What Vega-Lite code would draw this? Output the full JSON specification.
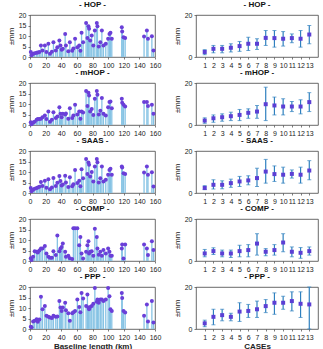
{
  "$schema": "https://vega.github.io/schema/vega-lite/v6.json",
  "padding": {"left": 6, "top": 0, "right": 0, "bottom": 0},
  "background": "white",
  "datasets": {
    "stems": [
      {"km": 1, "HOP": 2.4, "mHOP": 1.3, "SAAS": 2.4, "COMP": 1.3, "PPP": 1.1},
      {"km": 2, "HOP": 0.8, "mHOP": 0.4, "SAAS": 0.8, "COMP": 0.5, "PPP": 0.8},
      {"km": 4, "HOP": 1.6, "mHOP": 1.2, "SAAS": 1.6, "COMP": 2.0, "PPP": 3.6},
      {"km": 6, "HOP": 1.8, "mHOP": 1.5, "SAAS": 2.0, "COMP": 4.7, "PPP": 3.9},
      {"km": 8.5, "HOP": 2.0, "mHOP": 2.5, "SAAS": 2.4, "COMP": 4.4, "PPP": 4.7},
      {"km": 10, "HOP": 2.2, "mHOP": 2.9, "SAAS": 2.6, "COMP": 4.0, "PPP": 3.5},
      {"km": 12, "HOP": 2.4, "mHOP": 2.9, "SAAS": 3.0, "COMP": 5.0, "PPP": 4.5},
      {"km": 14, "HOP": 5.5, "mHOP": 3.0, "SAAS": 5.2, "COMP": 5.9, "PPP": 15.3},
      {"km": 16, "HOP": 3.1, "mHOP": 3.7, "SAAS": 3.3, "COMP": 5.9, "PPP": 9.4},
      {"km": 19, "HOP": 5.5, "mHOP": 4.5, "SAAS": 5.8, "COMP": 7.2, "PPP": 10.9},
      {"km": 21, "HOP": 2.4, "mHOP": 2.8, "SAAS": 2.5, "COMP": 3.6, "PPP": 6.3},
      {"km": 23.5, "HOP": 6.3, "mHOP": 6.4, "SAAS": 6.5, "COMP": 2.0, "PPP": 5.8},
      {"km": 25.6, "HOP": 1.6, "mHOP": 1.5, "SAAS": 1.8, "COMP": 1.5, "PPP": 5.5},
      {"km": 28, "HOP": 2.5, "mHOP": 2.5, "SAAS": 2.6, "COMP": 1.5, "PPP": 5.2},
      {"km": 30, "HOP": 7.0, "mHOP": 6.1, "SAAS": 7.2, "COMP": 4.7, "PPP": 6.3},
      {"km": 33, "HOP": 3.1, "mHOP": 3.3, "SAAS": 3.3, "COMP": 2.8, "PPP": 5.8},
      {"km": 35, "HOP": 4.7, "mHOP": 4.0, "SAAS": 4.9, "COMP": 12.2, "PPP": 5.9},
      {"km": 37.6, "HOP": 7.9, "mHOP": 8.5, "SAAS": 8.1, "COMP": 4.7, "PPP": 13.3},
      {"km": 39, "HOP": 5.5, "mHOP": 5.3, "SAAS": 5.7, "COMP": 5.9, "PPP": 10.2},
      {"km": 40.5, "HOP": 3.5, "mHOP": 3.7, "SAAS": 3.6, "COMP": 6.7, "PPP": 8.6},
      {"km": 42, "HOP": 3.9, "mHOP": 5.3, "SAAS": 4.0, "COMP": 8.3, "PPP": 10.2},
      {"km": 45, "HOP": 11.0, "mHOP": 5.0, "SAAS": 8.2, "COMP": 4.4, "PPP": 12.5},
      {"km": 46, "HOP": 5.5, "mHOP": 5.5, "SAAS": 5.0, "COMP": 2.0, "PPP": 8.9},
      {"km": 49, "HOP": 2.7, "mHOP": 3.0, "SAAS": 2.8, "COMP": 2.5, "PPP": 7.5},
      {"km": 51, "HOP": 7.0, "mHOP": 8.0, "SAAS": 7.5, "COMP": 1.3, "PPP": 3.9},
      {"km": 54, "HOP": 3.0, "mHOP": 3.3, "SAAS": 3.2, "COMP": 1.0, "PPP": 7.5},
      {"km": 55.5, "HOP": 4.0, "mHOP": 4.5, "SAAS": 4.2, "COMP": 15.6, "PPP": 8.0},
      {"km": 57.7, "HOP": 8.7, "mHOP": 9.6, "SAAS": 11.0, "COMP": 15.6, "PPP": 8.6},
      {"km": 60.6, "HOP": 4.7, "mHOP": 5.0, "SAAS": 4.8, "COMP": 15.6, "PPP": 14.0},
      {"km": 63, "HOP": 5.5, "mHOP": 6.4, "SAAS": 5.8, "COMP": 7.5, "PPP": 10.5},
      {"km": 64.5, "HOP": 3.0, "mHOP": 3.0, "SAAS": 3.2, "COMP": 11.4, "PPP": 8.0},
      {"km": 66, "HOP": 11.5, "mHOP": 6.4, "SAAS": 11.3, "COMP": 3.6, "PPP": 17.2},
      {"km": 68, "HOP": 7.0, "mHOP": 6.0, "SAAS": 7.0, "COMP": 1.2, "PPP": 14.5},
      {"km": 71.8, "HOP": 16.2, "mHOP": 16.2, "SAAS": 16.2, "COMP": 4.4, "PPP": 10.9},
      {"km": 73.5, "HOP": 9.0, "mHOP": 9.0, "SAAS": 9.0, "COMP": 7.5, "PPP": 16.4},
      {"km": 74.8, "HOP": 14.6, "mHOP": 15.4, "SAAS": 14.5, "COMP": 9.4, "PPP": 10.2},
      {"km": 75.6, "HOP": 13.4, "mHOP": 14.0, "SAAS": 13.4, "COMP": 3.6, "PPP": 9.4},
      {"km": 77, "HOP": 7.9, "mHOP": 6.4, "SAAS": 7.9, "COMP": 4.4, "PPP": 10.5},
      {"km": 79, "HOP": 10.2, "mHOP": 7.6, "SAAS": 10.0, "COMP": 4.7, "PPP": 10.9},
      {"km": 81, "HOP": 5.5, "mHOP": 4.8, "SAAS": 5.5, "COMP": 2.5, "PPP": 12.0},
      {"km": 83, "HOP": 12.6, "mHOP": 12.5, "SAAS": 12.6, "COMP": 15.3, "PPP": 19.5},
      {"km": 85.5, "HOP": 16.2, "mHOP": 16.2, "SAAS": 16.2, "COMP": 11.4, "PPP": 13.0},
      {"km": 86.3, "HOP": 14.6, "mHOP": 14.4, "SAAS": 14.6, "COMP": 5.9, "PPP": 14.0},
      {"km": 88, "HOP": 5.0, "mHOP": 5.0, "SAAS": 5.0, "COMP": 3.0, "PPP": 12.5},
      {"km": 90, "HOP": 7.0, "mHOP": 6.8, "SAAS": 7.0, "COMP": 4.4, "PPP": 14.0},
      {"km": 92, "HOP": 12.6, "mHOP": 12.8, "SAAS": 12.6, "COMP": 2.5, "PPP": 14.0},
      {"km": 94, "HOP": 5.5, "mHOP": 5.3, "SAAS": 5.5, "COMP": 5.2, "PPP": 13.3},
      {"km": 97, "HOP": 6.3, "mHOP": 4.5, "SAAS": 6.3, "COMP": 3.6, "PPP": 14.0},
      {"km": 100, "HOP": 8.7, "mHOP": 8.5, "SAAS": 8.7, "COMP": 5.9, "PPP": 19.5},
      {"km": 101.7, "HOP": 11.0, "mHOP": 10.9, "SAAS": 11.0, "COMP": 4.4, "PPP": 15.6},
      {"km": 103, "HOP": 11.5, "mHOP": 11.2, "SAAS": 11.5, "COMP": 2.5, "PPP": 9.4},
      {"km": 104.7, "HOP": 8.7, "mHOP": 8.0, "SAAS": 8.7, "COMP": 2.5, "PPP": 8.6},
      {"km": 117.5, "HOP": 14.2, "mHOP": 12.5, "SAAS": 12.6, "COMP": 5.9, "PPP": 17.2},
      {"km": 118, "HOP": 12.1, "mHOP": 10.6, "SAAS": 12.1, "COMP": 7.8, "PPP": 14.8},
      {"km": 119.7, "HOP": 9.4, "mHOP": 9.6, "SAAS": 9.4, "COMP": 1.2, "PPP": 8.6},
      {"km": 121.8, "HOP": 9.0, "mHOP": 8.8, "SAAS": 9.0, "COMP": 7.8, "PPP": 7.8},
      {"km": 146, "HOP": 9.8, "mHOP": 10.9, "SAAS": 9.8, "COMP": 7.8, "PPP": 6.3},
      {"km": 149.6, "HOP": 12.6, "mHOP": 10.9, "SAAS": 12.6, "COMP": 5.9, "PPP": 11.7},
      {"km": 151, "HOP": 8.7, "mHOP": 9.0, "SAAS": 8.7, "COMP": 2.8, "PPP": 3.6},
      {"km": 156, "HOP": 9.9, "mHOP": 9.6, "SAAS": 9.9, "COMP": 9.4, "PPP": 13.3},
      {"km": 158, "HOP": 3.1, "mHOP": 5.3, "SAAS": 3.1, "COMP": 5.2, "PPP": 3.1}
    ],
    "cases": [
      {"method": "HOP", "case": 1, "mean": 2.4, "lo": 1.1, "hi": 3.5},
      {"method": "HOP", "case": 2, "mean": 3.9, "lo": 2.0, "hi": 5.5},
      {"method": "HOP", "case": 3, "mean": 3.9, "lo": 2.0, "hi": 5.5},
      {"method": "HOP", "case": 4, "mean": 4.4, "lo": 2.4, "hi": 6.3},
      {"method": "HOP", "case": 5, "mean": 5.2, "lo": 2.7, "hi": 7.4},
      {"method": "HOP", "case": 6, "mean": 6.3, "lo": 3.1, "hi": 9.4},
      {"method": "HOP", "case": 7, "mean": 6.3, "lo": 3.6, "hi": 8.7},
      {"method": "HOP", "case": 8, "mean": 9.1, "lo": 5.5, "hi": 12.6},
      {"method": "HOP", "case": 9, "mean": 9.0, "lo": 4.7, "hi": 12.6},
      {"method": "HOP", "case": 10, "mean": 8.7, "lo": 5.2, "hi": 12.1},
      {"method": "HOP", "case": 11, "mean": 9.0, "lo": 6.8, "hi": 11.0},
      {"method": "HOP", "case": 12, "mean": 8.7, "lo": 4.7, "hi": 12.6},
      {"method": "HOP", "case": 13, "mean": 10.7, "lo": 6.3, "hi": 15.0},
      {"method": "mHOP", "case": 1, "mean": 2.1, "lo": 0.8, "hi": 3.4},
      {"method": "mHOP", "case": 2, "mean": 3.2, "lo": 1.3, "hi": 4.8},
      {"method": "mHOP", "case": 3, "mean": 3.7, "lo": 1.8, "hi": 5.3},
      {"method": "mHOP", "case": 4, "mean": 4.2, "lo": 2.1, "hi": 6.1},
      {"method": "mHOP", "case": 5, "mean": 4.8, "lo": 2.1, "hi": 7.4},
      {"method": "mHOP", "case": 6, "mean": 5.8, "lo": 3.2, "hi": 7.7},
      {"method": "mHOP", "case": 7, "mean": 6.4, "lo": 3.2, "hi": 9.3},
      {"method": "mHOP", "case": 8, "mean": 9.9, "lo": 2.1, "hi": 18.0},
      {"method": "mHOP", "case": 9, "mean": 9.3, "lo": 4.8, "hi": 13.3},
      {"method": "mHOP", "case": 10, "mean": 8.8, "lo": 4.8, "hi": 12.5},
      {"method": "mHOP", "case": 11, "mean": 8.8, "lo": 6.4, "hi": 11.2},
      {"method": "mHOP", "case": 12, "mean": 8.8, "lo": 5.3, "hi": 12.0},
      {"method": "mHOP", "case": 13, "mean": 10.9, "lo": 6.4, "hi": 15.4},
      {"method": "SAAS", "case": 1, "mean": 2.4, "lo": 1.6, "hi": 3.5},
      {"method": "SAAS", "case": 2, "mean": 3.9, "lo": 1.9, "hi": 6.3},
      {"method": "SAAS", "case": 3, "mean": 3.9, "lo": 2.0, "hi": 5.8},
      {"method": "SAAS", "case": 4, "mean": 4.7, "lo": 2.7, "hi": 6.6},
      {"method": "SAAS", "case": 5, "mean": 5.5, "lo": 3.1, "hi": 7.9},
      {"method": "SAAS", "case": 6, "mean": 6.0, "lo": 3.9, "hi": 8.2},
      {"method": "SAAS", "case": 7, "mean": 7.1, "lo": 3.1, "hi": 11.8},
      {"method": "SAAS", "case": 8, "mean": 10.2, "lo": 4.7, "hi": 16.0},
      {"method": "SAAS", "case": 9, "mean": 9.0, "lo": 5.5, "hi": 12.9},
      {"method": "SAAS", "case": 10, "mean": 8.7, "lo": 4.7, "hi": 12.3},
      {"method": "SAAS", "case": 11, "mean": 9.1, "lo": 7.1, "hi": 11.0},
      {"method": "SAAS", "case": 12, "mean": 8.7, "lo": 4.7, "hi": 12.3},
      {"method": "SAAS", "case": 13, "mean": 10.7, "lo": 6.3, "hi": 15.4},
      {"method": "COMP", "case": 1, "mean": 3.6, "lo": 2.0, "hi": 5.5},
      {"method": "COMP", "case": 2, "mean": 4.7, "lo": 3.1, "hi": 6.3},
      {"method": "COMP", "case": 3, "mean": 3.6, "lo": 2.0, "hi": 5.2},
      {"method": "COMP", "case": 4, "mean": 3.6, "lo": 1.7, "hi": 5.2},
      {"method": "COMP", "case": 5, "mean": 4.7, "lo": 2.0, "hi": 7.5},
      {"method": "COMP", "case": 6, "mean": 5.2, "lo": 2.0, "hi": 7.8},
      {"method": "COMP", "case": 7, "mean": 8.3, "lo": 2.8, "hi": 13.0},
      {"method": "COMP", "case": 8, "mean": 4.4, "lo": 2.5, "hi": 5.9},
      {"method": "COMP", "case": 9, "mean": 5.2, "lo": 2.8, "hi": 7.8},
      {"method": "COMP", "case": 10, "mean": 8.8, "lo": 4.4, "hi": 13.0},
      {"method": "COMP", "case": 11, "mean": 4.4, "lo": 2.0, "hi": 6.7},
      {"method": "COMP", "case": 12, "mean": 3.9, "lo": 1.3, "hi": 6.4},
      {"method": "COMP", "case": 13, "mean": 4.7, "lo": 2.8, "hi": 6.7},
      {"method": "PPP", "case": 1, "mean": 2.7, "lo": 1.1, "hi": 4.2},
      {"method": "PPP", "case": 2, "mean": 5.8, "lo": 2.0, "hi": 9.4},
      {"method": "PPP", "case": 3, "mean": 6.6, "lo": 3.9, "hi": 9.4},
      {"method": "PPP", "case": 4, "mean": 5.8, "lo": 3.9, "hi": 7.5},
      {"method": "PPP", "case": 5, "mean": 8.3, "lo": 3.6, "hi": 12.5},
      {"method": "PPP", "case": 6, "mean": 8.6, "lo": 5.5, "hi": 11.7},
      {"method": "PPP", "case": 7, "mean": 9.4, "lo": 5.5, "hi": 13.3},
      {"method": "PPP", "case": 8, "mean": 10.9, "lo": 7.8, "hi": 14.0},
      {"method": "PPP", "case": 9, "mean": 12.5, "lo": 7.0, "hi": 17.2},
      {"method": "PPP", "case": 10, "mean": 12.5, "lo": 9.4, "hi": 15.6},
      {"method": "PPP", "case": 11, "mean": 13.3, "lo": 8.6, "hi": 17.7},
      {"method": "PPP", "case": 12, "mean": 12.0, "lo": 5.5, "hi": 17.7},
      {"method": "PPP", "case": 13, "mean": 11.7, "lo": 0.0, "hi": 20.0}
    ]
  },
  "config": {
    "view": {"stroke": "#444", "strokeWidth": 0.8},
    "axis": {
      "grid": false,
      "domain": false,
      "labelFont": "Liberation Sans",
      "labelFontSize": 7,
      "labelColor": "#222",
      "labelPadding": 2,
      "labelFlush": false,
      "tickSize": 2,
      "tickColor": "#444",
      "tickWidth": 0.7,
      "titleFont": "Liberation Sans",
      "titleFontSize": 8,
      "titleFontWeight": "normal",
      "titleColor": "#222",
      "titlePadding": 3
    },
    "title": {"font": "Liberation Sans", "fontSize": 8, "fontWeight": "bold", "color": "#111", "offset": 2, "anchor": "middle"}
  },
  "spacing": -1,
  "vconcat": [
    {"spacing": 10, "hconcat": [
      {"title": "- HOP -", "width": 125, "height": 42, "data": {"name": "stems"},
       "encoding": {"x": {"field": "km", "type": "quantitative", "scale": {"domain": [0, 160]}, "axis": {"title": null, "values": [0, 20, 40, 60, 80, 100, 120, 140, 160]}},
                    "y": {"field": "HOP", "type": "quantitative", "scale": {"domain": [0, 20]}, "axis": {"title": "±mm", "values": [0, 5, 10, 15, 20]}}},
       "layer": [
         {"mark": {"type": "rule", "color": "#86c3e4", "strokeWidth": 1.3}, "encoding": {"y2": {"datum": 0}}},
         {"mark": {"type": "point", "filled": true, "color": "#6a3fd8", "size": 16, "opacity": 1}}
       ]},
      {"title": "- HOP -", "width": 122, "height": 42, "data": {"name": "cases"}, "transform": [{"filter": "datum.method === 'HOP'"}],
       "encoding": {"x": {"field": "case", "type": "quantitative", "scale": {"domain": [0, 14]}, "axis": {"title": null, "values": [1, 2, 3, 4, 5, 6, 7, 8, 9, 10, 11, 12, 13]}}},
       "layer": [
         {"mark": {"type": "rule", "color": "#2f80bf", "strokeWidth": 1.2}, "encoding": {"y": {"field": "lo", "type": "quantitative", "scale": {"domain": [0, 20]}, "axis": {"title": "±mm", "values": [0, 5, 10, 15, 20]}}, "y2": {"field": "hi"}}},
         {"mark": {"type": "tick", "orient": "horizontal", "color": "#2f80bf", "size": 4, "thickness": 1}, "encoding": {"y": {"field": "lo", "type": "quantitative"}}},
         {"mark": {"type": "tick", "orient": "horizontal", "color": "#2f80bf", "size": 4, "thickness": 1}, "encoding": {"y": {"field": "hi", "type": "quantitative"}}},
         {"mark": {"type": "square", "filled": true, "color": "#5b3fd4", "size": 16, "opacity": 1}, "encoding": {"y": {"field": "mean", "type": "quantitative"}}}
       ]}
    ]},
    {"spacing": 10, "hconcat": [
      {"title": "- mHOP -", "width": 125, "height": 42, "data": {"name": "stems"},
       "encoding": {"x": {"field": "km", "type": "quantitative", "scale": {"domain": [0, 160]}, "axis": {"title": null, "values": [0, 20, 40, 60, 80, 100, 120, 140, 160]}},
                    "y": {"field": "mHOP", "type": "quantitative", "scale": {"domain": [0, 20]}, "axis": {"title": "±mm", "values": [0, 5, 10, 15, 20]}}},
       "layer": [
         {"mark": {"type": "rule", "color": "#86c3e4", "strokeWidth": 1.3}, "encoding": {"y2": {"datum": 0}}},
         {"mark": {"type": "point", "filled": true, "color": "#6a3fd8", "size": 16, "opacity": 1}}
       ]},
      {"title": "- mHOP -", "width": 122, "height": 42, "data": {"name": "cases"}, "transform": [{"filter": "datum.method === 'mHOP'"}],
       "encoding": {"x": {"field": "case", "type": "quantitative", "scale": {"domain": [0, 14]}, "axis": {"title": null, "values": [1, 2, 3, 4, 5, 6, 7, 8, 9, 10, 11, 12, 13]}}},
       "layer": [
         {"mark": {"type": "rule", "color": "#2f80bf", "strokeWidth": 1.2}, "encoding": {"y": {"field": "lo", "type": "quantitative", "scale": {"domain": [0, 20]}, "axis": {"title": "±mm", "values": [0, 5, 10, 15, 20]}}, "y2": {"field": "hi"}}},
         {"mark": {"type": "tick", "orient": "horizontal", "color": "#2f80bf", "size": 4, "thickness": 1}, "encoding": {"y": {"field": "lo", "type": "quantitative"}}},
         {"mark": {"type": "tick", "orient": "horizontal", "color": "#2f80bf", "size": 4, "thickness": 1}, "encoding": {"y": {"field": "hi", "type": "quantitative"}}},
         {"mark": {"type": "square", "filled": true, "color": "#5b3fd4", "size": 16, "opacity": 1}, "encoding": {"y": {"field": "mean", "type": "quantitative"}}}
       ]}
    ]},
    {"spacing": 10, "hconcat": [
      {"title": "- SAAS -", "width": 125, "height": 42, "data": {"name": "stems"},
       "encoding": {"x": {"field": "km", "type": "quantitative", "scale": {"domain": [0, 160]}, "axis": {"title": null, "values": [0, 20, 40, 60, 80, 100, 120, 140, 160]}},
                    "y": {"field": "SAAS", "type": "quantitative", "scale": {"domain": [0, 20]}, "axis": {"title": "±mm", "values": [0, 5, 10, 15, 20]}}},
       "layer": [
         {"mark": {"type": "rule", "color": "#86c3e4", "strokeWidth": 1.3}, "encoding": {"y2": {"datum": 0}}},
         {"mark": {"type": "point", "filled": true, "color": "#6a3fd8", "size": 16, "opacity": 1}}
       ]},
      {"title": "- SAAS -", "width": 122, "height": 42, "data": {"name": "cases"}, "transform": [{"filter": "datum.method === 'SAAS'"}],
       "encoding": {"x": {"field": "case", "type": "quantitative", "scale": {"domain": [0, 14]}, "axis": {"title": null, "values": [1, 2, 3, 4, 5, 6, 7, 8, 9, 10, 11, 12, 13]}}},
       "layer": [
         {"mark": {"type": "rule", "color": "#2f80bf", "strokeWidth": 1.2}, "encoding": {"y": {"field": "lo", "type": "quantitative", "scale": {"domain": [0, 20]}, "axis": {"title": "±mm", "values": [0, 5, 10, 15, 20]}}, "y2": {"field": "hi"}}},
         {"mark": {"type": "tick", "orient": "horizontal", "color": "#2f80bf", "size": 4, "thickness": 1}, "encoding": {"y": {"field": "lo", "type": "quantitative"}}},
         {"mark": {"type": "tick", "orient": "horizontal", "color": "#2f80bf", "size": 4, "thickness": 1}, "encoding": {"y": {"field": "hi", "type": "quantitative"}}},
         {"mark": {"type": "square", "filled": true, "color": "#5b3fd4", "size": 16, "opacity": 1}, "encoding": {"y": {"field": "mean", "type": "quantitative"}}}
       ]}
    ]},
    {"spacing": 10, "hconcat": [
      {"title": "- COMP -", "width": 125, "height": 42, "data": {"name": "stems"},
       "encoding": {"x": {"field": "km", "type": "quantitative", "scale": {"domain": [0, 160]}, "axis": {"title": null, "values": [0, 20, 40, 60, 80, 100, 120, 140, 160]}},
                    "y": {"field": "COMP", "type": "quantitative", "scale": {"domain": [0, 20]}, "axis": {"title": "±mm", "values": [0, 5, 10, 15, 20]}}},
       "layer": [
         {"mark": {"type": "rule", "color": "#86c3e4", "strokeWidth": 1.3}, "encoding": {"y2": {"datum": 0}}},
         {"mark": {"type": "point", "filled": true, "color": "#6a3fd8", "size": 16, "opacity": 1}}
       ]},
      {"title": "- COMP -", "width": 122, "height": 42, "data": {"name": "cases"}, "transform": [{"filter": "datum.method === 'COMP'"}],
       "encoding": {"x": {"field": "case", "type": "quantitative", "scale": {"domain": [0, 14]}, "axis": {"title": null, "values": [1, 2, 3, 4, 5, 6, 7, 8, 9, 10, 11, 12, 13]}}},
       "layer": [
         {"mark": {"type": "rule", "color": "#2f80bf", "strokeWidth": 1.2}, "encoding": {"y": {"field": "lo", "type": "quantitative", "scale": {"domain": [0, 20]}, "axis": {"title": "±mm", "values": [0, 5, 10, 15, 20]}}, "y2": {"field": "hi"}}},
         {"mark": {"type": "tick", "orient": "horizontal", "color": "#2f80bf", "size": 4, "thickness": 1}, "encoding": {"y": {"field": "lo", "type": "quantitative"}}},
         {"mark": {"type": "tick", "orient": "horizontal", "color": "#2f80bf", "size": 4, "thickness": 1}, "encoding": {"y": {"field": "hi", "type": "quantitative"}}},
         {"mark": {"type": "square", "filled": true, "color": "#5b3fd4", "size": 16, "opacity": 1}, "encoding": {"y": {"field": "mean", "type": "quantitative"}}}
       ]}
    ]},
    {"spacing": 10, "hconcat": [
      {"title": "- PPP -", "width": 125, "height": 42, "data": {"name": "stems"},
       "encoding": {"x": {"field": "km", "type": "quantitative", "scale": {"domain": [0, 160]}, "axis": {"title": "Baseline length (km)", "titleFontWeight": "bold", "titlePadding": 2, "values": [0, 20, 40, 60, 80, 100, 120, 140, 160]}},
                    "y": {"field": "PPP", "type": "quantitative", "scale": {"domain": [0, 20]}, "axis": {"title": "±mm", "values": [0, 5, 10, 15, 20]}}},
       "layer": [
         {"mark": {"type": "rule", "color": "#86c3e4", "strokeWidth": 1.3}, "encoding": {"y2": {"datum": 0}}},
         {"mark": {"type": "point", "filled": true, "color": "#6a3fd8", "size": 16, "opacity": 1}}
       ]},
      {"title": "- PPP -", "width": 122, "height": 42, "data": {"name": "cases"}, "transform": [{"filter": "datum.method === 'PPP'"}],
       "encoding": {"x": {"field": "case", "type": "quantitative", "scale": {"domain": [0, 14]}, "axis": {"title": "CASEs", "titleFontWeight": "bold", "titlePadding": 2, "values": [1, 2, 3, 4, 5, 6, 7, 8, 9, 10, 11, 12, 13]}}},
       "layer": [
         {"mark": {"type": "rule", "color": "#2f80bf", "strokeWidth": 1.2}, "encoding": {"y": {"field": "lo", "type": "quantitative", "scale": {"domain": [0, 20]}, "axis": {"title": "±mm", "values": [0, 5, 10, 15, 20]}}, "y2": {"field": "hi"}}},
         {"mark": {"type": "tick", "orient": "horizontal", "color": "#2f80bf", "size": 4, "thickness": 1}, "encoding": {"y": {"field": "lo", "type": "quantitative"}}},
         {"mark": {"type": "tick", "orient": "horizontal", "color": "#2f80bf", "size": 4, "thickness": 1}, "encoding": {"y": {"field": "hi", "type": "quantitative"}}},
         {"mark": {"type": "square", "filled": true, "color": "#5b3fd4", "size": 16, "opacity": 1}, "encoding": {"y": {"field": "mean", "type": "quantitative"}}}
       ]}
    ]}
  ]
}
